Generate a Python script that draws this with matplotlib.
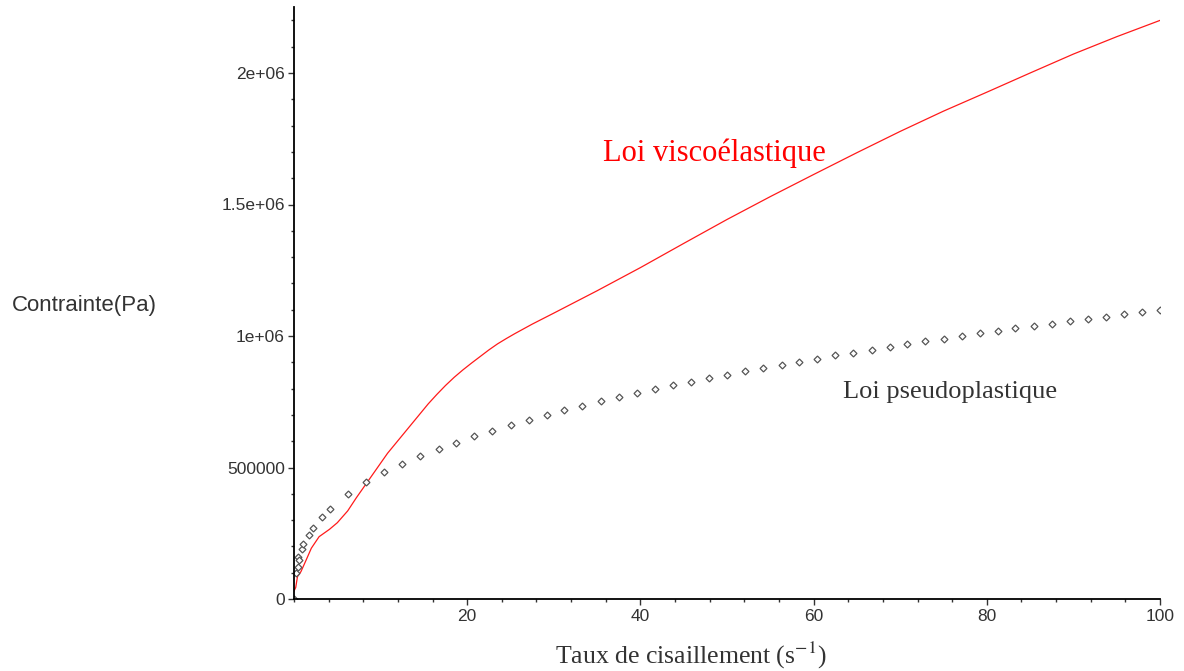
import matplotlib.pyplot as plt
from matplotlib.ticker import MultipleLocator, FixedLocator

# viscoelastic law (red curve)
visco_x = [0.0, 0.2, 0.4, 0.8, 1.4, 2.0, 2.9, 4.1, 5.0, 6.2, 7.2, 8.5, 10.8, 12.7,
           14.6, 15.5, 16.5, 17.5, 18.5, 19.5, 20.5, 21.5, 22.5, 23.5, 24.5, 25.5,
           26.5, 27.5, 30, 35, 40, 45, 50, 55, 60, 65, 70, 75, 80, 85, 90, 95, 100]
visco_y = [30000, 44000, 85000, 104000, 148000, 193000, 237000, 265000, 290000,
           335000, 385000, 446000, 554000, 630000, 706000, 742000, 778000, 812000,
           843000, 871000, 897000, 922000, 947000, 970000, 990000, 1009000, 1027000,
           1045000, 1087000, 1172000, 1260000, 1352000, 1443000, 1530000, 1614000,
           1697000, 1778000, 1855000, 1927000, 2000000, 2072000, 2138000, 2200000]

# pseudoplastic law (diamond points)
pseudo_x = [0.0, 0.23, 0.42, 0.42, 0.6, 0.88, 1.08, 1.7, 2.2, 3.2, 4.1, 6.25, 8.33,
            10.4, 12.5, 14.6, 16.7, 18.75, 20.8, 22.9, 25.0, 27.1, 29.2, 31.2,
            33.3, 35.4, 37.5, 39.6, 41.7, 43.8, 45.8, 47.9, 50.0, 52.1, 54.2, 56.3,
            58.3, 60.4, 62.5, 64.6, 66.7, 68.8, 70.8, 72.9, 75.0, 77.1, 79.2, 81.3,
            83.3, 85.4, 87.5, 89.6, 91.7, 93.8, 95.8, 97.9, 100.0]
pseudo_y = [0, 100000, 123000, 161000, 148000, 192000, 209000, 245000, 271000,
            311000, 341000, 398000, 443000, 482000, 512000, 543000, 570000, 595000,
            618000, 640000, 661000, 681000, 700000, 717000, 735000, 751000, 767000,
            783000, 798000, 812000, 826000, 840000, 853000, 866000, 879000, 891000,
            902000, 914000, 926000, 937000, 948000, 959000, 969000, 980000, 990000,
            1000000, 1010000, 1019000, 1029000, 1038000, 1047000, 1057000, 1066000,
            1074000, 1083000, 1091000, 1100000]

x_ticks = [20, 40, 60, 80, 100]
y_ticks = [0, 500000, 1000000, 1500000, 2000000]
y_ticklabels = ['0', '500000', '1e+06', '1.5e+06', '2e+06']

fig = plt.figure(figsize=(11.84, 6.71), dpi=100)
ax = fig.add_axes([294 / 1184, 72 / 671, 866 / 1184, 591.75 / 671])

ax.plot(visco_x, visco_y, color='#ff1a1a', lw=0.9)
ax.plot(pseudo_x, pseudo_y, ls='none', marker='D', ms=3.5, mfc='white',
        mec='#555555', mew=0.9)

ax.set_xlim(0, 100)
ax.set_ylim(0, 2.25e6)

for s in ['top', 'right']:
    ax.spines[s].set_visible(False)
for s in ['left', 'bottom']:
    ax.spines[s].set_linewidth(1.3)
    ax.spines[s].set_color('black')

ax.xaxis.set_major_locator(FixedLocator(x_ticks))
ax.xaxis.set_minor_locator(MultipleLocator(4))
ax.yaxis.set_major_locator(FixedLocator(y_ticks))
ax.yaxis.set_minor_locator(MultipleLocator(100000))
ax.set_yticklabels(y_ticklabels)

ax.tick_params(axis='both', which='major', length=4.5, width=1, color='#333333',
               labelsize=12.5, labelcolor='#333333', labelfontfamily='Liberation Sans')
ax.tick_params(axis='both', which='minor', length=2.5, width=1, color='#333333')
ax.tick_params(axis='x', which='major', pad=3)
ax.tick_params(axis='y', which='major', pad=2)

fig.text(12 / 1184, 1 - 305 / 671, 'Contrainte(Pa)', fontsize=16, color='#333333',
         family='Liberation Sans', va='center', ha='left')
fig.text(691 / 1184, 1 - 655 / 671, 'Taux de cisaillement (s$^{-1}$)', fontsize=18.5,
         color='#333333', family='Liberation Serif', va='center', ha='center',
         math_fontfamily='stix')

ax.text(603 / 1184, 1 - 153 / 671, 'Loi viscoélastique', transform=fig.transFigure,
        fontsize=22, color='red', family='Liberation Serif', va='center', ha='left')
ax.text(843 / 1184, 1 - 392 / 671, 'Loi pseudoplastique', transform=fig.transFigure,
        fontsize=19, color='#333333', family='Liberation Serif', va='center', ha='left')

fig.savefig('out.png', dpi=100, facecolor='white')
